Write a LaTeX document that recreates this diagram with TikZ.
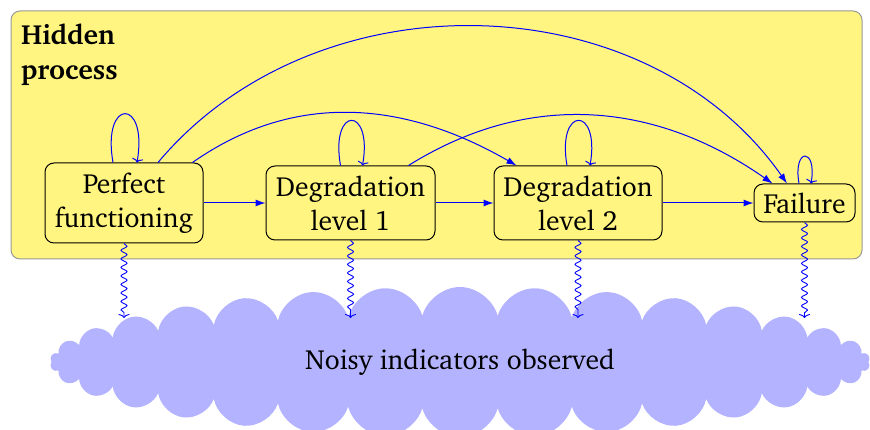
\documentclass[tikz,border=0pt]{standalone}
\usepackage[T1]{fontenc}
\renewcommand{\rmdefault}{bch}
\usetikzlibrary{arrows.meta,shapes.symbols,decorations.pathmorphing}
\definecolor{hidyellow}{RGB}{255,245,128}
\definecolor{cloudblue}{RGB}{179,179,255}
\begin{document}
\begin{tikzpicture}[x=1pt,y=1pt,
  state/.style={draw=black, line width=1pt, rounded corners=9pt, fill=hidyellow, align=center, inner sep=0pt, font=\fontsize{27.7}{34}\selectfont},
  trans/.style={draw=blue, line width=1pt, -{Latex[length=10pt,width=7pt]}},
  selfloop/.style={draw=blue, line width=1pt, -{To[length=4pt,width=11pt]}},
  obs/.style={draw=blue, line width=0.9pt, -{To[length=4pt,width=11pt]}, decorate, decoration={snake, amplitude=3pt, segment length=8.5pt, post length=5pt}},
]
\useasboundingbox (0,0) rectangle (870,430);
\node[fill=hidyellow, draw=gray!80, line width=1pt, rounded corners=9pt, minimum width=851pt, minimum height=248pt, inner sep=0pt] (hidden) at (436.5,295) {};
\node[anchor=base west, align=left, inner sep=0pt, font=\bfseries\fontsize{27.7}{35}\selectfont] (title) at (21,350) {Hidden\\process};

\node[state, minimum width=158pt, minimum height=80pt] (pf) at (124,227) {Perfect\\functioning};
\node[state, minimum width=169pt, minimum height=74pt] (d1) at (350.5,227) {Degradation\\level 1};
\node[state, minimum width=168pt, minimum height=74pt] (d2) at (578,227) {Degradation\\level 2};
\node[state, minimum width=101pt, minimum height=38pt] (fail) at (804.5,227) {Failure};

\draw[trans] (pf) -- (d1);
\draw[trans] (d1) -- (d2);
\draw[trans] (d2) -- (fail);

\draw[selfloop] ([xshift=-11pt]pf.north) .. controls +(100:66) and +(80:66) .. ([xshift=13pt]pf.north);
\draw[selfloop] ([xshift=-10pt]d1.north) .. controls +(100:61) and +(80:61) .. ([xshift=12pt]d1.north);
\draw[selfloop] ([xshift=-11pt]d2.north) .. controls +(100:61) and +(80:61) .. ([xshift=12pt]d2.north);
\draw[selfloop] ([xshift=-5.5pt]fail.north) .. controls +(100:37) and +(80:37) .. ([xshift=6.5pt]fail.north);

\draw[trans] ([xshift=-11pt]pf.north east) to[out=35, in=150] ([xshift=23pt]d2.north west);
\draw[trans] ([xshift=34pt]pf.north) to[out=50, in=125] ([xshift=-17.5pt]fail.north);
\draw[trans] ([xshift=58pt]d1.north) to[out=32, in=145] ([xshift=-32pt]fail.north);

\node[cloud, cloud puffs=34, aspect=5.4, fill=cloudblue, minimum width=820pt, minimum height=150pt, inner sep=0pt, font=\fontsize{27.7}{34}\selectfont] (cloud) at (460,68) {Noisy indicators observed};

\coordinate (o1) at (124,112);
\coordinate (o2) at (350.5,112);
\coordinate (o3) at (578,112);
\coordinate (o4) at (804.5,112);
\draw[obs] (pf.south) -- (o1);
\draw[obs] (d1.south) -- (o2);
\draw[obs] (d2.south) -- (o3);
\draw[obs] (fail.south) -- (o4);
\end{tikzpicture}
\end{document}
